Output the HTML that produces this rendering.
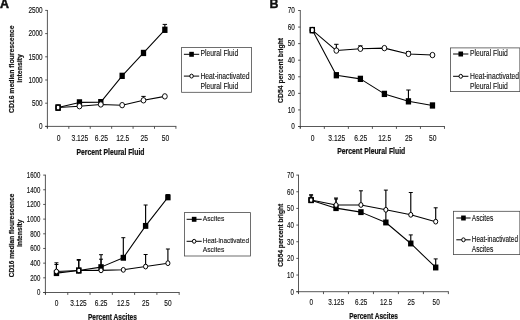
<!DOCTYPE html>
<html><head><meta charset="utf-8"><title>Figure</title>
<style>
html,body{margin:0;padding:0;background:#fff;}
body{width:520px;height:320px;overflow:hidden;font-family:"Liberation Sans",sans-serif;}
svg{display:block;filter:blur(0.45px);}
svg text{font-family:"Liberation Sans",sans-serif;}
</style></head><body>
<svg width="520" height="320" viewBox="0 0 520 320" font-family="'Liberation Sans', sans-serif" fill="#111">
<rect width="520" height="320" fill="#fff"/>
<text transform="translate(-0.10,8.00) scale(1,1.0)" font-size="12.4" font-weight="bold" stroke="#111" stroke-width="0.5" text-anchor="start">A</text>
<text transform="translate(269.50,8.20) scale(1,1.0)" font-size="12.4" font-weight="bold" stroke="#111" stroke-width="0.4" text-anchor="start">B</text>
<line x1="47.40" y1="10.00" x2="47.40" y2="128.20" stroke="#3a3a3a" stroke-width="0.85"/>
<line x1="45.20" y1="126.40" x2="176.32" y2="126.40" stroke="#3a3a3a" stroke-width="0.85"/>
<line x1="45.20" y1="126.40" x2="47.40" y2="126.40" stroke="#3a3a3a" stroke-width="0.85"/>
<text transform="translate(42.60,129.12) scale(1,1.36)" font-size="6.4" stroke="#111" stroke-width="0.1" text-anchor="end">0</text>
<line x1="45.20" y1="103.20" x2="47.40" y2="103.20" stroke="#3a3a3a" stroke-width="0.85"/>
<text transform="translate(42.60,105.92) scale(1,1.36)" font-size="6.4" stroke="#111" stroke-width="0.1" text-anchor="end">500</text>
<line x1="45.20" y1="80.00" x2="47.40" y2="80.00" stroke="#3a3a3a" stroke-width="0.85"/>
<text transform="translate(42.60,82.72) scale(1,1.36)" font-size="6.4" stroke="#111" stroke-width="0.1" text-anchor="end">1000</text>
<line x1="45.20" y1="56.80" x2="47.40" y2="56.80" stroke="#3a3a3a" stroke-width="0.85"/>
<text transform="translate(42.60,59.52) scale(1,1.36)" font-size="6.4" stroke="#111" stroke-width="0.1" text-anchor="end">1500</text>
<line x1="45.20" y1="33.60" x2="47.40" y2="33.60" stroke="#3a3a3a" stroke-width="0.85"/>
<text transform="translate(42.60,36.32) scale(1,1.36)" font-size="6.4" stroke="#111" stroke-width="0.1" text-anchor="end">2000</text>
<line x1="45.20" y1="10.40" x2="47.40" y2="10.40" stroke="#3a3a3a" stroke-width="0.85"/>
<text transform="translate(42.60,13.12) scale(1,1.36)" font-size="6.4" stroke="#111" stroke-width="0.1" text-anchor="end">2500</text>
<line x1="47.40" y1="126.40" x2="47.40" y2="128.80" stroke="#3a3a3a" stroke-width="0.85"/>
<line x1="68.82" y1="126.40" x2="68.82" y2="128.80" stroke="#3a3a3a" stroke-width="0.85"/>
<line x1="90.24" y1="126.40" x2="90.24" y2="128.80" stroke="#3a3a3a" stroke-width="0.85"/>
<line x1="111.66" y1="126.40" x2="111.66" y2="128.80" stroke="#3a3a3a" stroke-width="0.85"/>
<line x1="133.08" y1="126.40" x2="133.08" y2="128.80" stroke="#3a3a3a" stroke-width="0.85"/>
<line x1="154.50" y1="126.40" x2="154.50" y2="128.80" stroke="#3a3a3a" stroke-width="0.85"/>
<line x1="175.92" y1="126.40" x2="175.92" y2="128.80" stroke="#3a3a3a" stroke-width="0.85"/>
<text transform="translate(58.51,140.52) scale(1,1.29)" font-size="6.75" stroke="#111" stroke-width="0.1" text-anchor="middle">0</text>
<text transform="translate(79.93,140.52) scale(1,1.29)" font-size="6.75" stroke="#111" stroke-width="0.1" text-anchor="middle">3.125</text>
<text transform="translate(101.35,140.52) scale(1,1.29)" font-size="6.75" stroke="#111" stroke-width="0.1" text-anchor="middle">6.25</text>
<text transform="translate(122.77,140.52) scale(1,1.29)" font-size="6.75" stroke="#111" stroke-width="0.1" text-anchor="middle">12.5</text>
<text transform="translate(144.19,140.52) scale(1,1.29)" font-size="6.75" stroke="#111" stroke-width="0.1" text-anchor="middle">25</text>
<text transform="translate(165.61,140.52) scale(1,1.29)" font-size="6.75" stroke="#111" stroke-width="0.1" text-anchor="middle">50</text>
<text transform="translate(110.50,154.69) scale(1,1.28)" font-size="6.85" font-weight="bold" stroke="#111" stroke-width="0.18" text-anchor="middle">Percent Pleural Fluid</text>
<text transform="translate(13.70,69.30) rotate(-90)" font-size="6.85" font-weight="bold" stroke="#111" stroke-width="0.18" text-anchor="middle">CD16 median flourescence</text>
<text transform="translate(21.60,68.40) rotate(-90)" font-size="7.0" font-weight="bold" stroke="#111" stroke-width="0.18" text-anchor="middle">intensity</text>
<line x1="164.85" y1="29.79" x2="164.85" y2="24.40" stroke="#000" stroke-width="1.15"/>
<line x1="162.65" y1="24.40" x2="167.05" y2="24.40" stroke="#000" stroke-width="1.0"/>
<line x1="143.50" y1="100.31" x2="143.50" y2="96.40" stroke="#000" stroke-width="1.15"/>
<line x1="141.30" y1="96.40" x2="145.70" y2="96.40" stroke="#000" stroke-width="1.0"/>
<polyline points="58.10,107.61 79.45,102.39 100.80,102.16 122.15,75.84 143.50,52.96 164.85,29.79" fill="none" stroke="#000" stroke-width="1.05" stroke-linejoin="round"/>
<rect x="55.45" y="104.46" width="5.3" height="6.30" fill="#000"/>
<rect x="76.80" y="99.24" width="5.3" height="6.30" fill="#000"/>
<rect x="98.15" y="99.01" width="5.3" height="6.30" fill="#000"/>
<rect x="119.50" y="72.69" width="5.3" height="6.30" fill="#000"/>
<rect x="140.85" y="49.81" width="5.3" height="6.30" fill="#000"/>
<rect x="162.20" y="26.64" width="5.3" height="6.30" fill="#000"/>
<polyline points="58.10,107.52 79.45,106.22 100.80,104.47 122.15,105.16 143.50,100.31 164.85,96.38" fill="none" stroke="#000" stroke-width="1.05" stroke-linejoin="round"/>
<ellipse cx="58.10" cy="107.52" rx="2.4" ry="2.70" fill="#fff" stroke="#000" stroke-width="0.95"/>
<ellipse cx="79.45" cy="106.22" rx="2.4" ry="2.70" fill="#fff" stroke="#000" stroke-width="0.95"/>
<ellipse cx="100.80" cy="104.47" rx="2.4" ry="2.70" fill="#fff" stroke="#000" stroke-width="0.95"/>
<ellipse cx="122.15" cy="105.16" rx="2.4" ry="2.70" fill="#fff" stroke="#000" stroke-width="0.95"/>
<ellipse cx="143.50" cy="100.31" rx="2.4" ry="2.70" fill="#fff" stroke="#000" stroke-width="0.95"/>
<ellipse cx="164.85" cy="96.38" rx="2.4" ry="2.70" fill="#fff" stroke="#000" stroke-width="0.95"/>
<rect x="56.15" y="105.16" width="3.90" height="4.90" fill="none" stroke="#000" stroke-width="1.4"/>
<rect x="181.6" y="47.4" width="69.80000000000001" height="44.9" fill="none" stroke="#4a4a4a" stroke-width="0.8"/>
<line x1="183.90" y1="54.30" x2="199.20" y2="54.30" stroke="#000" stroke-width="1"/>
<rect x="189.25" y="51.82" width="4.6" height="4.97" fill="#000"/>
<line x1="183.90" y1="76.10" x2="199.20" y2="76.10" stroke="#000" stroke-width="1"/>
<ellipse cx="191.55" cy="76.10" rx="1.75" ry="1.96" fill="#fff" stroke="#000" stroke-width="1"/>
<text transform="translate(200.40,56.07) scale(1,1.22)" font-size="6.8" stroke="#111" stroke-width="0.1" text-anchor="start">Pleural Fluid</text>
<text transform="translate(200.40,78.67) scale(1,1.22)" font-size="6.8" stroke="#111" stroke-width="0.1" text-anchor="start">Heat-inactivated</text>
<text transform="translate(200.40,88.67) scale(1,1.22)" font-size="6.8" stroke="#111" stroke-width="0.1" text-anchor="start">Pleural Fluid</text>
<line x1="300.30" y1="10.10" x2="300.30" y2="128.30" stroke="#3a3a3a" stroke-width="0.85"/>
<line x1="298.10" y1="126.50" x2="444.88" y2="126.50" stroke="#3a3a3a" stroke-width="0.85"/>
<line x1="298.10" y1="126.50" x2="300.30" y2="126.50" stroke="#3a3a3a" stroke-width="0.85"/>
<text transform="translate(294.90,129.22) scale(1,1.36)" font-size="6.4" stroke="#111" stroke-width="0.1" text-anchor="end">0</text>
<line x1="298.10" y1="109.93" x2="300.30" y2="109.93" stroke="#3a3a3a" stroke-width="0.85"/>
<text transform="translate(294.90,112.64) scale(1,1.36)" font-size="6.4" stroke="#111" stroke-width="0.1" text-anchor="end">10</text>
<line x1="298.10" y1="93.36" x2="300.30" y2="93.36" stroke="#3a3a3a" stroke-width="0.85"/>
<text transform="translate(294.90,96.07) scale(1,1.36)" font-size="6.4" stroke="#111" stroke-width="0.1" text-anchor="end">20</text>
<line x1="298.10" y1="76.79" x2="300.30" y2="76.79" stroke="#3a3a3a" stroke-width="0.85"/>
<text transform="translate(294.90,79.50) scale(1,1.36)" font-size="6.4" stroke="#111" stroke-width="0.1" text-anchor="end">30</text>
<line x1="298.10" y1="60.21" x2="300.30" y2="60.21" stroke="#3a3a3a" stroke-width="0.85"/>
<text transform="translate(294.90,62.93) scale(1,1.36)" font-size="6.4" stroke="#111" stroke-width="0.1" text-anchor="end">40</text>
<line x1="298.10" y1="43.64" x2="300.30" y2="43.64" stroke="#3a3a3a" stroke-width="0.85"/>
<text transform="translate(294.90,46.36) scale(1,1.36)" font-size="6.4" stroke="#111" stroke-width="0.1" text-anchor="end">50</text>
<line x1="298.10" y1="27.07" x2="300.30" y2="27.07" stroke="#3a3a3a" stroke-width="0.85"/>
<text transform="translate(294.90,29.79) scale(1,1.36)" font-size="6.4" stroke="#111" stroke-width="0.1" text-anchor="end">60</text>
<line x1="298.10" y1="10.50" x2="300.30" y2="10.50" stroke="#3a3a3a" stroke-width="0.85"/>
<text transform="translate(294.90,13.22) scale(1,1.36)" font-size="6.4" stroke="#111" stroke-width="0.1" text-anchor="end">70</text>
<line x1="300.30" y1="126.50" x2="300.30" y2="128.90" stroke="#3a3a3a" stroke-width="0.85"/>
<line x1="324.33" y1="126.50" x2="324.33" y2="128.90" stroke="#3a3a3a" stroke-width="0.85"/>
<line x1="348.36" y1="126.50" x2="348.36" y2="128.90" stroke="#3a3a3a" stroke-width="0.85"/>
<line x1="372.39" y1="126.50" x2="372.39" y2="128.90" stroke="#3a3a3a" stroke-width="0.85"/>
<line x1="396.42" y1="126.50" x2="396.42" y2="128.90" stroke="#3a3a3a" stroke-width="0.85"/>
<line x1="420.45" y1="126.50" x2="420.45" y2="128.90" stroke="#3a3a3a" stroke-width="0.85"/>
<line x1="444.48" y1="126.50" x2="444.48" y2="128.90" stroke="#3a3a3a" stroke-width="0.85"/>
<text transform="translate(312.72,140.52) scale(1,1.29)" font-size="6.75" stroke="#111" stroke-width="0.1" text-anchor="middle">0</text>
<text transform="translate(336.75,140.52) scale(1,1.29)" font-size="6.75" stroke="#111" stroke-width="0.1" text-anchor="middle">3.125</text>
<text transform="translate(360.77,140.52) scale(1,1.29)" font-size="6.75" stroke="#111" stroke-width="0.1" text-anchor="middle">6.25</text>
<text transform="translate(384.80,140.52) scale(1,1.29)" font-size="6.75" stroke="#111" stroke-width="0.1" text-anchor="middle">12.5</text>
<text transform="translate(408.84,140.52) scale(1,1.29)" font-size="6.75" stroke="#111" stroke-width="0.1" text-anchor="middle">25</text>
<text transform="translate(432.87,140.52) scale(1,1.29)" font-size="6.75" stroke="#111" stroke-width="0.1" text-anchor="middle">50</text>
<text transform="translate(371.20,154.44) scale(1,1.28)" font-size="6.85" font-weight="bold" stroke="#111" stroke-width="0.18" text-anchor="middle">Percent Pleural Fluid</text>
<text transform="translate(282.70,70.40) rotate(-90)" font-size="6.8" font-weight="bold" stroke="#111" stroke-width="0.18" text-anchor="middle">CD54 percent bright</text>
<line x1="408.44" y1="101.34" x2="408.44" y2="90.00" stroke="#000" stroke-width="1.15"/>
<line x1="406.24" y1="90.00" x2="410.64" y2="90.00" stroke="#000" stroke-width="1.0"/>
<line x1="336.35" y1="50.60" x2="336.35" y2="44.30" stroke="#000" stroke-width="1.15"/>
<line x1="334.15" y1="44.30" x2="338.55" y2="44.30" stroke="#000" stroke-width="1.0"/>
<line x1="360.38" y1="48.78" x2="360.38" y2="45.80" stroke="#000" stroke-width="1.15"/>
<line x1="358.18" y1="45.80" x2="362.57" y2="45.80" stroke="#000" stroke-width="1.0"/>
<line x1="408.44" y1="53.90" x2="408.44" y2="51.50" stroke="#000" stroke-width="1.15"/>
<line x1="406.24" y1="51.50" x2="410.64" y2="51.50" stroke="#000" stroke-width="1.0"/>
<polyline points="312.32,30.10 336.35,75.23 360.38,78.86 384.40,93.90 408.44,101.34 432.47,105.47" fill="none" stroke="#000" stroke-width="1.05" stroke-linejoin="round"/>
<rect x="309.67" y="26.95" width="5.3" height="6.30" fill="#000"/>
<rect x="333.70" y="72.08" width="5.3" height="6.30" fill="#000"/>
<rect x="357.73" y="75.71" width="5.3" height="6.30" fill="#000"/>
<rect x="381.75" y="90.75" width="5.3" height="6.30" fill="#000"/>
<rect x="405.79" y="98.19" width="5.3" height="6.30" fill="#000"/>
<rect x="429.82" y="102.32" width="5.3" height="6.30" fill="#000"/>
<polyline points="312.32,30.10 336.35,50.60 360.38,48.78 384.40,48.12 408.44,53.90 432.47,55.06" fill="none" stroke="#000" stroke-width="1.05" stroke-linejoin="round"/>
<ellipse cx="312.32" cy="30.10" rx="2.4" ry="2.70" fill="#fff" stroke="#000" stroke-width="0.95"/>
<ellipse cx="336.35" cy="50.60" rx="2.4" ry="2.70" fill="#fff" stroke="#000" stroke-width="0.95"/>
<ellipse cx="360.38" cy="48.78" rx="2.4" ry="2.70" fill="#fff" stroke="#000" stroke-width="0.95"/>
<ellipse cx="384.40" cy="48.12" rx="2.4" ry="2.70" fill="#fff" stroke="#000" stroke-width="0.95"/>
<ellipse cx="408.44" cy="53.90" rx="2.4" ry="2.70" fill="#fff" stroke="#000" stroke-width="0.95"/>
<ellipse cx="432.47" cy="55.06" rx="2.4" ry="2.70" fill="#fff" stroke="#000" stroke-width="0.95"/>
<rect x="310.27" y="27.55" width="4.10" height="5.10" fill="none" stroke="#000" stroke-width="1.2"/>
<rect x="450.5" y="47.9" width="69.35000000000002" height="43.699999999999996" fill="none" stroke="#4a4a4a" stroke-width="0.8"/>
<line x1="453.10" y1="54.00" x2="468.40" y2="54.00" stroke="#000" stroke-width="1"/>
<rect x="458.45" y="51.52" width="4.6" height="4.97" fill="#000"/>
<line x1="453.10" y1="76.30" x2="468.40" y2="76.30" stroke="#000" stroke-width="1"/>
<ellipse cx="460.75" cy="76.30" rx="1.75" ry="1.96" fill="#fff" stroke="#000" stroke-width="1"/>
<text transform="translate(470.00,56.17) scale(1,1.22)" font-size="6.8" stroke="#111" stroke-width="0.1" text-anchor="start">Pleural Fluid</text>
<text transform="translate(470.00,78.97) scale(1,1.22)" font-size="6.8" stroke="#111" stroke-width="0.1" text-anchor="start">Heat-inactivated</text>
<text transform="translate(470.00,88.57) scale(1,1.22)" font-size="6.8" stroke="#111" stroke-width="0.1" text-anchor="start">Pleural Fluid</text>
<line x1="45.40" y1="174.70" x2="45.40" y2="294.30" stroke="#3a3a3a" stroke-width="0.85"/>
<line x1="43.20" y1="292.50" x2="179.58" y2="292.50" stroke="#3a3a3a" stroke-width="0.85"/>
<line x1="43.20" y1="292.50" x2="45.40" y2="292.50" stroke="#3a3a3a" stroke-width="0.85"/>
<text transform="translate(40.30,295.46) scale(1,1.55)" font-size="6.05" stroke="#111" stroke-width="0.1" text-anchor="end">0</text>
<line x1="43.20" y1="277.82" x2="45.40" y2="277.82" stroke="#3a3a3a" stroke-width="0.85"/>
<text transform="translate(40.30,280.78) scale(1,1.55)" font-size="6.05" stroke="#111" stroke-width="0.1" text-anchor="end">200</text>
<line x1="43.20" y1="263.15" x2="45.40" y2="263.15" stroke="#3a3a3a" stroke-width="0.85"/>
<text transform="translate(40.30,266.11) scale(1,1.55)" font-size="6.05" stroke="#111" stroke-width="0.1" text-anchor="end">400</text>
<line x1="43.20" y1="248.47" x2="45.40" y2="248.47" stroke="#3a3a3a" stroke-width="0.85"/>
<text transform="translate(40.30,251.43) scale(1,1.55)" font-size="6.05" stroke="#111" stroke-width="0.1" text-anchor="end">600</text>
<line x1="43.20" y1="233.80" x2="45.40" y2="233.80" stroke="#3a3a3a" stroke-width="0.85"/>
<text transform="translate(40.30,236.76) scale(1,1.55)" font-size="6.05" stroke="#111" stroke-width="0.1" text-anchor="end">800</text>
<line x1="43.20" y1="219.12" x2="45.40" y2="219.12" stroke="#3a3a3a" stroke-width="0.85"/>
<text transform="translate(40.30,222.08) scale(1,1.55)" font-size="6.05" stroke="#111" stroke-width="0.1" text-anchor="end">1000</text>
<line x1="43.20" y1="204.45" x2="45.40" y2="204.45" stroke="#3a3a3a" stroke-width="0.85"/>
<text transform="translate(40.30,207.41) scale(1,1.55)" font-size="6.05" stroke="#111" stroke-width="0.1" text-anchor="end">1200</text>
<line x1="43.20" y1="189.77" x2="45.40" y2="189.77" stroke="#3a3a3a" stroke-width="0.85"/>
<text transform="translate(40.30,192.73) scale(1,1.55)" font-size="6.05" stroke="#111" stroke-width="0.1" text-anchor="end">1400</text>
<line x1="43.20" y1="175.10" x2="45.40" y2="175.10" stroke="#3a3a3a" stroke-width="0.85"/>
<text transform="translate(40.30,178.06) scale(1,1.55)" font-size="6.05" stroke="#111" stroke-width="0.1" text-anchor="end">1600</text>
<line x1="45.50" y1="292.50" x2="45.50" y2="294.90" stroke="#3a3a3a" stroke-width="0.85"/>
<line x1="67.78" y1="292.50" x2="67.78" y2="294.90" stroke="#3a3a3a" stroke-width="0.85"/>
<line x1="90.06" y1="292.50" x2="90.06" y2="294.90" stroke="#3a3a3a" stroke-width="0.85"/>
<line x1="112.34" y1="292.50" x2="112.34" y2="294.90" stroke="#3a3a3a" stroke-width="0.85"/>
<line x1="134.62" y1="292.50" x2="134.62" y2="294.90" stroke="#3a3a3a" stroke-width="0.85"/>
<line x1="156.90" y1="292.50" x2="156.90" y2="294.90" stroke="#3a3a3a" stroke-width="0.85"/>
<line x1="179.18" y1="292.50" x2="179.18" y2="294.90" stroke="#3a3a3a" stroke-width="0.85"/>
<text transform="translate(56.54,306.17) scale(1,1.35)" font-size="6.55" stroke="#111" stroke-width="0.1" text-anchor="middle">0</text>
<text transform="translate(78.52,306.17) scale(1,1.35)" font-size="6.55" stroke="#111" stroke-width="0.1" text-anchor="middle">3.125</text>
<text transform="translate(101.10,306.17) scale(1,1.35)" font-size="6.55" stroke="#111" stroke-width="0.1" text-anchor="middle">6.25</text>
<text transform="translate(123.38,306.17) scale(1,1.35)" font-size="6.55" stroke="#111" stroke-width="0.1" text-anchor="middle">12.5</text>
<text transform="translate(145.66,306.17) scale(1,1.35)" font-size="6.55" stroke="#111" stroke-width="0.1" text-anchor="middle">25</text>
<text transform="translate(167.94,306.17) scale(1,1.35)" font-size="6.55" stroke="#111" stroke-width="0.1" text-anchor="middle">50</text>
<text transform="translate(112.40,319.88) scale(1,1.27)" font-size="6.56" font-weight="bold" stroke="#111" stroke-width="0.18" text-anchor="middle">Percent Ascites</text>
<text transform="translate(13.90,235.50) rotate(-90)" font-size="6.55" font-weight="bold" stroke="#111" stroke-width="0.18" text-anchor="middle">CD16 median flourescence</text>
<text transform="translate(21.80,233.30) rotate(-90)" font-size="6.7" font-weight="bold" stroke="#111" stroke-width="0.18" text-anchor="middle">intensity</text>
<line x1="56.45" y1="273.14" x2="56.45" y2="264.50" stroke="#000" stroke-width="1.15"/>
<line x1="54.45" y1="264.50" x2="58.45" y2="264.50" stroke="#000" stroke-width="1.0"/>
<line x1="78.74" y1="270.51" x2="78.74" y2="259.50" stroke="#000" stroke-width="1.15"/>
<line x1="76.74" y1="259.50" x2="80.74" y2="259.50" stroke="#000" stroke-width="1.0"/>
<line x1="101.03" y1="267.14" x2="101.03" y2="254.70" stroke="#000" stroke-width="1.15"/>
<line x1="99.03" y1="254.70" x2="103.03" y2="254.70" stroke="#000" stroke-width="1.0"/>
<line x1="123.32" y1="257.79" x2="123.32" y2="237.70" stroke="#000" stroke-width="1.15"/>
<line x1="121.32" y1="237.70" x2="125.32" y2="237.70" stroke="#000" stroke-width="1.0"/>
<line x1="145.61" y1="225.90" x2="145.61" y2="205.00" stroke="#000" stroke-width="1.15"/>
<line x1="143.61" y1="205.00" x2="147.61" y2="205.00" stroke="#000" stroke-width="1.0"/>
<line x1="167.90" y1="197.38" x2="167.90" y2="194.60" stroke="#000" stroke-width="1.15"/>
<line x1="165.90" y1="194.60" x2="169.90" y2="194.60" stroke="#000" stroke-width="1.0"/>
<line x1="56.45" y1="271.46" x2="56.45" y2="262.80" stroke="#000" stroke-width="1.15"/>
<line x1="54.45" y1="262.80" x2="58.45" y2="262.80" stroke="#000" stroke-width="1.0"/>
<line x1="78.74" y1="270.51" x2="78.74" y2="260.30" stroke="#000" stroke-width="1.15"/>
<line x1="76.74" y1="260.30" x2="80.74" y2="260.30" stroke="#000" stroke-width="1.0"/>
<line x1="101.03" y1="270.36" x2="101.03" y2="259.20" stroke="#000" stroke-width="1.15"/>
<line x1="99.03" y1="259.20" x2="103.03" y2="259.20" stroke="#000" stroke-width="1.0"/>
<line x1="145.61" y1="266.56" x2="145.61" y2="254.50" stroke="#000" stroke-width="1.15"/>
<line x1="143.61" y1="254.50" x2="147.61" y2="254.50" stroke="#000" stroke-width="1.0"/>
<line x1="167.90" y1="263.20" x2="167.90" y2="249.00" stroke="#000" stroke-width="1.15"/>
<line x1="165.90" y1="249.00" x2="169.90" y2="249.00" stroke="#000" stroke-width="1.0"/>
<polyline points="56.45,273.14 78.74,270.51 101.03,267.14 123.32,257.79 145.61,225.90 167.90,197.38" fill="none" stroke="#000" stroke-width="1.05" stroke-linejoin="round"/>
<rect x="53.75" y="270.19" width="5.4" height="5.90" fill="#000"/>
<rect x="76.04" y="267.56" width="5.4" height="5.90" fill="#000"/>
<rect x="98.33" y="264.19" width="5.4" height="5.90" fill="#000"/>
<rect x="120.62" y="254.84" width="5.4" height="5.90" fill="#000"/>
<rect x="142.91" y="222.95" width="5.4" height="5.90" fill="#000"/>
<rect x="165.20" y="194.43" width="5.4" height="5.90" fill="#000"/>
<polyline points="56.45,271.46 78.74,270.51 101.03,270.36 123.32,269.85 145.61,266.56 167.90,263.20" fill="none" stroke="#000" stroke-width="1.05" stroke-linejoin="round"/>
<ellipse cx="56.45" cy="271.46" rx="2.05" ry="2.40" fill="#fff" stroke="#000" stroke-width="1.0"/>
<ellipse cx="78.74" cy="270.51" rx="2.05" ry="2.40" fill="#fff" stroke="#000" stroke-width="1.0"/>
<ellipse cx="101.03" cy="270.36" rx="2.05" ry="2.40" fill="#fff" stroke="#000" stroke-width="1.0"/>
<ellipse cx="123.32" cy="269.85" rx="2.05" ry="2.40" fill="#fff" stroke="#000" stroke-width="1.0"/>
<ellipse cx="145.61" cy="266.56" rx="2.05" ry="2.40" fill="#fff" stroke="#000" stroke-width="1.0"/>
<ellipse cx="167.90" cy="263.20" rx="2.05" ry="2.40" fill="#fff" stroke="#000" stroke-width="1.0"/>
<rect x="76.64" y="268.16" width="4.20" height="4.70" fill="none" stroke="#000" stroke-width="1.2"/>
<rect x="184.4" y="212.6" width="66.0" height="43.400000000000006" fill="none" stroke="#4a4a4a" stroke-width="0.8"/>
<line x1="186.60" y1="219.30" x2="201.70" y2="219.30" stroke="#000" stroke-width="1"/>
<rect x="191.85" y="216.82" width="4.6" height="4.97" fill="#000"/>
<line x1="186.60" y1="241.30" x2="201.70" y2="241.30" stroke="#000" stroke-width="1"/>
<ellipse cx="194.15" cy="241.30" rx="1.75" ry="1.96" fill="#fff" stroke="#000" stroke-width="1"/>
<text transform="translate(202.80,221.28) scale(1,1.2)" font-size="6.7" stroke="#111" stroke-width="0.1" text-anchor="start">Ascites</text>
<text transform="translate(202.80,243.09) scale(1,1.26)" font-size="6.4" stroke="#111" stroke-width="0.1" text-anchor="start">Heat-inactivated</text>
<text transform="translate(202.80,252.48) scale(1,1.2)" font-size="6.7" stroke="#111" stroke-width="0.1" text-anchor="start">Ascites</text>
<line x1="298.50" y1="174.70" x2="298.50" y2="293.50" stroke="#3a3a3a" stroke-width="0.85"/>
<line x1="296.30" y1="291.70" x2="448.78" y2="291.70" stroke="#3a3a3a" stroke-width="0.85"/>
<line x1="296.30" y1="291.70" x2="298.50" y2="291.70" stroke="#3a3a3a" stroke-width="0.85"/>
<text transform="translate(293.80,294.58) scale(1,1.5)" font-size="6.1" stroke="#111" stroke-width="0.1" text-anchor="end">0</text>
<line x1="296.30" y1="275.04" x2="298.50" y2="275.04" stroke="#3a3a3a" stroke-width="0.85"/>
<text transform="translate(293.80,277.92) scale(1,1.5)" font-size="6.1" stroke="#111" stroke-width="0.1" text-anchor="end">10</text>
<line x1="296.30" y1="258.39" x2="298.50" y2="258.39" stroke="#3a3a3a" stroke-width="0.85"/>
<text transform="translate(293.80,261.26) scale(1,1.5)" font-size="6.1" stroke="#111" stroke-width="0.1" text-anchor="end">20</text>
<line x1="296.30" y1="241.73" x2="298.50" y2="241.73" stroke="#3a3a3a" stroke-width="0.85"/>
<text transform="translate(293.80,244.60) scale(1,1.5)" font-size="6.1" stroke="#111" stroke-width="0.1" text-anchor="end">30</text>
<line x1="296.30" y1="225.07" x2="298.50" y2="225.07" stroke="#3a3a3a" stroke-width="0.85"/>
<text transform="translate(293.80,227.95) scale(1,1.5)" font-size="6.1" stroke="#111" stroke-width="0.1" text-anchor="end">40</text>
<line x1="296.30" y1="208.41" x2="298.50" y2="208.41" stroke="#3a3a3a" stroke-width="0.85"/>
<text transform="translate(293.80,211.29) scale(1,1.5)" font-size="6.1" stroke="#111" stroke-width="0.1" text-anchor="end">50</text>
<line x1="296.30" y1="191.76" x2="298.50" y2="191.76" stroke="#3a3a3a" stroke-width="0.85"/>
<text transform="translate(293.80,194.63) scale(1,1.5)" font-size="6.1" stroke="#111" stroke-width="0.1" text-anchor="end">60</text>
<line x1="296.30" y1="175.10" x2="298.50" y2="175.10" stroke="#3a3a3a" stroke-width="0.85"/>
<text transform="translate(293.80,177.98) scale(1,1.5)" font-size="6.1" stroke="#111" stroke-width="0.1" text-anchor="end">70</text>
<line x1="298.50" y1="291.70" x2="298.50" y2="294.10" stroke="#3a3a3a" stroke-width="0.85"/>
<line x1="323.48" y1="291.70" x2="323.48" y2="294.10" stroke="#3a3a3a" stroke-width="0.85"/>
<line x1="348.46" y1="291.70" x2="348.46" y2="294.10" stroke="#3a3a3a" stroke-width="0.85"/>
<line x1="373.44" y1="291.70" x2="373.44" y2="294.10" stroke="#3a3a3a" stroke-width="0.85"/>
<line x1="398.42" y1="291.70" x2="398.42" y2="294.10" stroke="#3a3a3a" stroke-width="0.85"/>
<line x1="423.40" y1="291.70" x2="423.40" y2="294.10" stroke="#3a3a3a" stroke-width="0.85"/>
<line x1="448.38" y1="291.70" x2="448.38" y2="294.10" stroke="#3a3a3a" stroke-width="0.85"/>
<text transform="translate(311.24,305.25) scale(1,1.33)" font-size="6.4" stroke="#111" stroke-width="0.1" text-anchor="middle">0</text>
<text transform="translate(336.22,305.25) scale(1,1.33)" font-size="6.4" stroke="#111" stroke-width="0.1" text-anchor="middle">3.125</text>
<text transform="translate(361.20,305.25) scale(1,1.33)" font-size="6.4" stroke="#111" stroke-width="0.1" text-anchor="middle">6.25</text>
<text transform="translate(386.18,305.25) scale(1,1.33)" font-size="6.4" stroke="#111" stroke-width="0.1" text-anchor="middle">12.5</text>
<text transform="translate(411.16,305.25) scale(1,1.33)" font-size="6.4" stroke="#111" stroke-width="0.1" text-anchor="middle">25</text>
<text transform="translate(436.14,305.25) scale(1,1.33)" font-size="6.4" stroke="#111" stroke-width="0.1" text-anchor="middle">50</text>
<text transform="translate(373.60,318.82) scale(1,1.33)" font-size="6.55" font-weight="bold" stroke="#111" stroke-width="0.18" text-anchor="middle">Percent Ascites</text>
<text transform="translate(282.70,235.30) rotate(-90)" font-size="6.6" font-weight="bold" stroke="#111" stroke-width="0.18" text-anchor="middle">CD54 percent bright</text>
<line x1="311.10" y1="200.31" x2="311.10" y2="195.80" stroke="#000" stroke-width="1.15"/>
<line x1="309.10" y1="195.80" x2="313.10" y2="195.80" stroke="#000" stroke-width="1.0"/>
<line x1="336.02" y1="208.14" x2="336.02" y2="199.00" stroke="#000" stroke-width="1.15"/>
<line x1="334.02" y1="199.00" x2="338.02" y2="199.00" stroke="#000" stroke-width="1.0"/>
<line x1="385.86" y1="222.48" x2="385.86" y2="209.00" stroke="#000" stroke-width="1.15"/>
<line x1="383.86" y1="209.00" x2="387.86" y2="209.00" stroke="#000" stroke-width="1.0"/>
<line x1="410.78" y1="243.49" x2="410.78" y2="234.90" stroke="#000" stroke-width="1.15"/>
<line x1="408.78" y1="234.90" x2="412.78" y2="234.90" stroke="#000" stroke-width="1.0"/>
<line x1="435.70" y1="267.49" x2="435.70" y2="258.90" stroke="#000" stroke-width="1.15"/>
<line x1="433.70" y1="258.90" x2="437.70" y2="258.90" stroke="#000" stroke-width="1.0"/>
<line x1="311.10" y1="199.97" x2="311.10" y2="194.70" stroke="#000" stroke-width="1.15"/>
<line x1="309.10" y1="194.70" x2="313.10" y2="194.70" stroke="#000" stroke-width="1.0"/>
<line x1="336.02" y1="204.98" x2="336.02" y2="198.00" stroke="#000" stroke-width="1.15"/>
<line x1="334.02" y1="198.00" x2="338.02" y2="198.00" stroke="#000" stroke-width="1.0"/>
<line x1="360.94" y1="204.98" x2="360.94" y2="190.80" stroke="#000" stroke-width="1.15"/>
<line x1="358.94" y1="190.80" x2="362.94" y2="190.80" stroke="#000" stroke-width="1.0"/>
<line x1="385.86" y1="209.81" x2="385.86" y2="190.10" stroke="#000" stroke-width="1.15"/>
<line x1="383.86" y1="190.10" x2="387.86" y2="190.10" stroke="#000" stroke-width="1.0"/>
<line x1="410.78" y1="214.81" x2="410.78" y2="192.50" stroke="#000" stroke-width="1.15"/>
<line x1="408.78" y1="192.50" x2="412.78" y2="192.50" stroke="#000" stroke-width="1.0"/>
<line x1="435.70" y1="221.65" x2="435.70" y2="207.80" stroke="#000" stroke-width="1.15"/>
<line x1="433.70" y1="207.80" x2="437.70" y2="207.80" stroke="#000" stroke-width="1.0"/>
<polyline points="311.10,200.14 336.02,208.14 360.94,212.14 385.86,222.48 410.78,243.49 435.70,267.49" fill="none" stroke="#000" stroke-width="1.05" stroke-linejoin="round"/>
<rect x="308.40" y="197.19" width="5.4" height="5.90" fill="#000"/>
<rect x="333.32" y="205.19" width="5.4" height="5.90" fill="#000"/>
<rect x="358.24" y="209.19" width="5.4" height="5.90" fill="#000"/>
<rect x="383.16" y="219.53" width="5.4" height="5.90" fill="#000"/>
<rect x="408.08" y="240.54" width="5.4" height="5.90" fill="#000"/>
<rect x="433.00" y="264.54" width="5.4" height="5.90" fill="#000"/>
<polyline points="311.10,199.97 336.02,204.98 360.94,204.98 385.86,209.81 410.78,214.81 435.70,221.65" fill="none" stroke="#000" stroke-width="1.05" stroke-linejoin="round"/>
<ellipse cx="311.10" cy="199.97" rx="2.05" ry="2.40" fill="#fff" stroke="#000" stroke-width="1.0"/>
<ellipse cx="336.02" cy="204.98" rx="2.05" ry="2.40" fill="#fff" stroke="#000" stroke-width="1.0"/>
<ellipse cx="360.94" cy="204.98" rx="2.05" ry="2.40" fill="#fff" stroke="#000" stroke-width="1.0"/>
<ellipse cx="385.86" cy="209.81" rx="2.05" ry="2.40" fill="#fff" stroke="#000" stroke-width="1.0"/>
<ellipse cx="410.78" cy="214.81" rx="2.05" ry="2.40" fill="#fff" stroke="#000" stroke-width="1.0"/>
<ellipse cx="435.70" cy="221.65" rx="2.05" ry="2.40" fill="#fff" stroke="#000" stroke-width="1.0"/>
<rect x="309.00" y="197.79" width="4.20" height="4.70" fill="none" stroke="#000" stroke-width="1.2"/>
<rect x="453.4" y="211.3" width="66.45000000000005" height="43.29999999999998" fill="none" stroke="#4a4a4a" stroke-width="0.8"/>
<line x1="456.30" y1="218.00" x2="470.60" y2="218.00" stroke="#000" stroke-width="1"/>
<rect x="461.15" y="215.52" width="4.6" height="4.97" fill="#000"/>
<line x1="456.30" y1="239.80" x2="470.60" y2="239.80" stroke="#000" stroke-width="1"/>
<ellipse cx="463.45" cy="239.80" rx="1.75" ry="1.96" fill="#fff" stroke="#000" stroke-width="1"/>
<text transform="translate(471.80,220.59) scale(1,1.3)" font-size="6.65" stroke="#111" stroke-width="0.1" text-anchor="start">Ascites</text>
<text transform="translate(471.80,241.98) scale(1,1.3)" font-size="6.4" stroke="#111" stroke-width="0.1" text-anchor="start">Heat-inactivated</text>
<text transform="translate(471.80,251.89) scale(1,1.3)" font-size="6.65" stroke="#111" stroke-width="0.1" text-anchor="start">Ascites</text>
</svg>
</body></html>
